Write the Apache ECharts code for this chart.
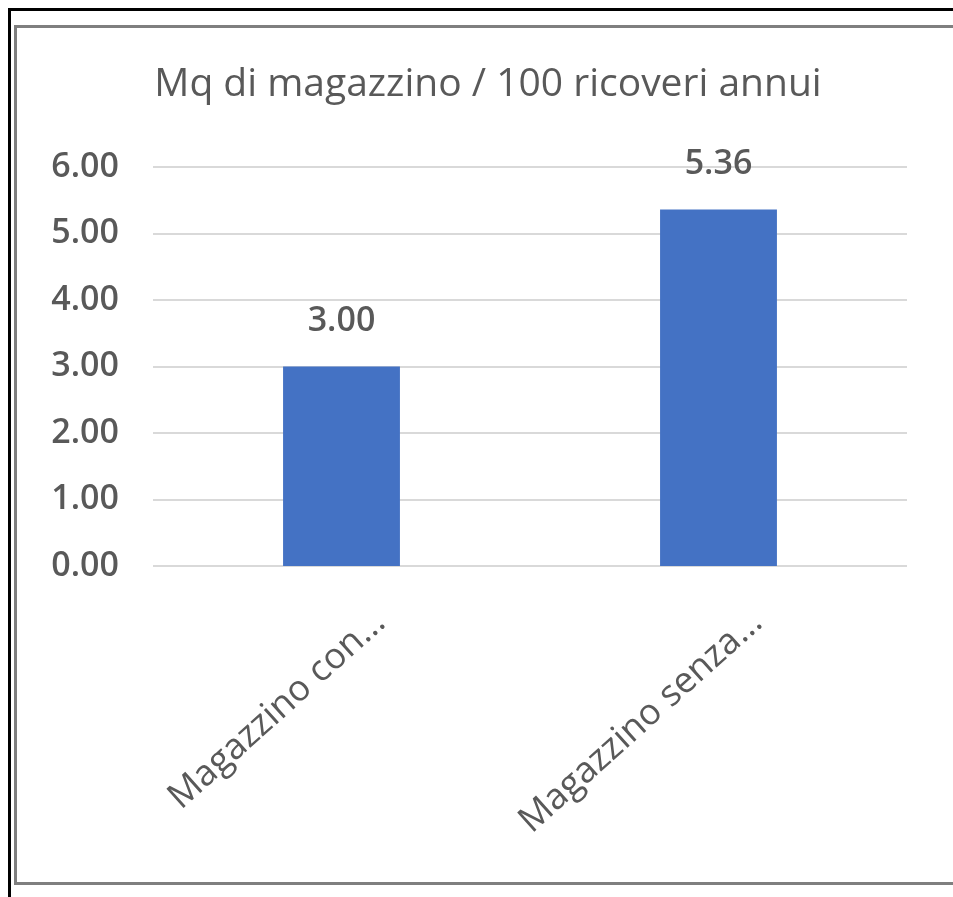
<!DOCTYPE html>
<html><head><meta charset="utf-8">
<script src="https://cdn.jsdelivr.net/npm/echarts@6/dist/echarts.min.js"></script>
<style>html,body{margin:0;padding:0;background:#fff}#c{width:953px;height:897px}</style>
</head><body><div id="c"></div>
<script>
const titleText = 'Mq di magazzino / 100 ricoveri annui';
const categories = ['Magazzino con...', 'Magazzino senza...'];
const values = [3.00, 5.36];
const yTicks = [0, 1, 2, 3, 4, 5, 6];

const chart = echarts.init(document.getElementById('c'), null, {renderer: 'canvas'});
const font = 'Open Sans';
const grey = '#595959';
chart.setOption({
  animation: false,
  backgroundColor: '#fff',
  title: {
    text: titleText, left: 483, top: 60, textAlign: 'center',
    textStyle: {color: grey, fontFamily: font, fontSize: 39, fontWeight: 'normal'}
  },
  grid: {left: 153, right: 46, top: 167, bottom: 331, containLabel: false},
  xAxis: {
    type: 'category', data: categories,
    axisLine: {show: false}, axisTick: {show: false},
    axisLabel: {rotate: 42, color: grey, fontFamily: font, fontSize: 36, margin: 86,
      padding: [0, -52, 0, 0], interval: 0}
  },
  yAxis: {
    type: 'value', min: yTicks[0], max: yTicks[yTicks.length - 1], interval: 1,
    axisLine: {show: false}, axisTick: {show: false},
    axisLabel: {formatter: v => v.toFixed(2), color: grey, fontFamily: font, fontSize: 34, fontWeight: 600, margin: 34},
    splitLine: {lineStyle: {color: '#d9d9d9', width: 2}}
  },
  series: [{
    type: 'bar', data: values, barWidth: '31%',
    itemStyle: {color: '#4472C4'},
    label: {show: true, position: 'top', distance: 28, formatter: p => p.value.toFixed(2),
      color: grey, fontFamily: font, fontSize: 34, fontWeight: 600}
  }],
  graphic: [
    {type: 'rect', shape: {x: 15.5, y: 26.5, width: 960, height: 857}, style: {fill: 'none', stroke: '#7f7f7f', lineWidth: 3}},
    {type: 'rect', shape: {x: 9.5, y: 9.5, width: 960, height: 900}, style: {fill: 'none', stroke: '#000', lineWidth: 3}}
  ]
});
</script></body></html>
